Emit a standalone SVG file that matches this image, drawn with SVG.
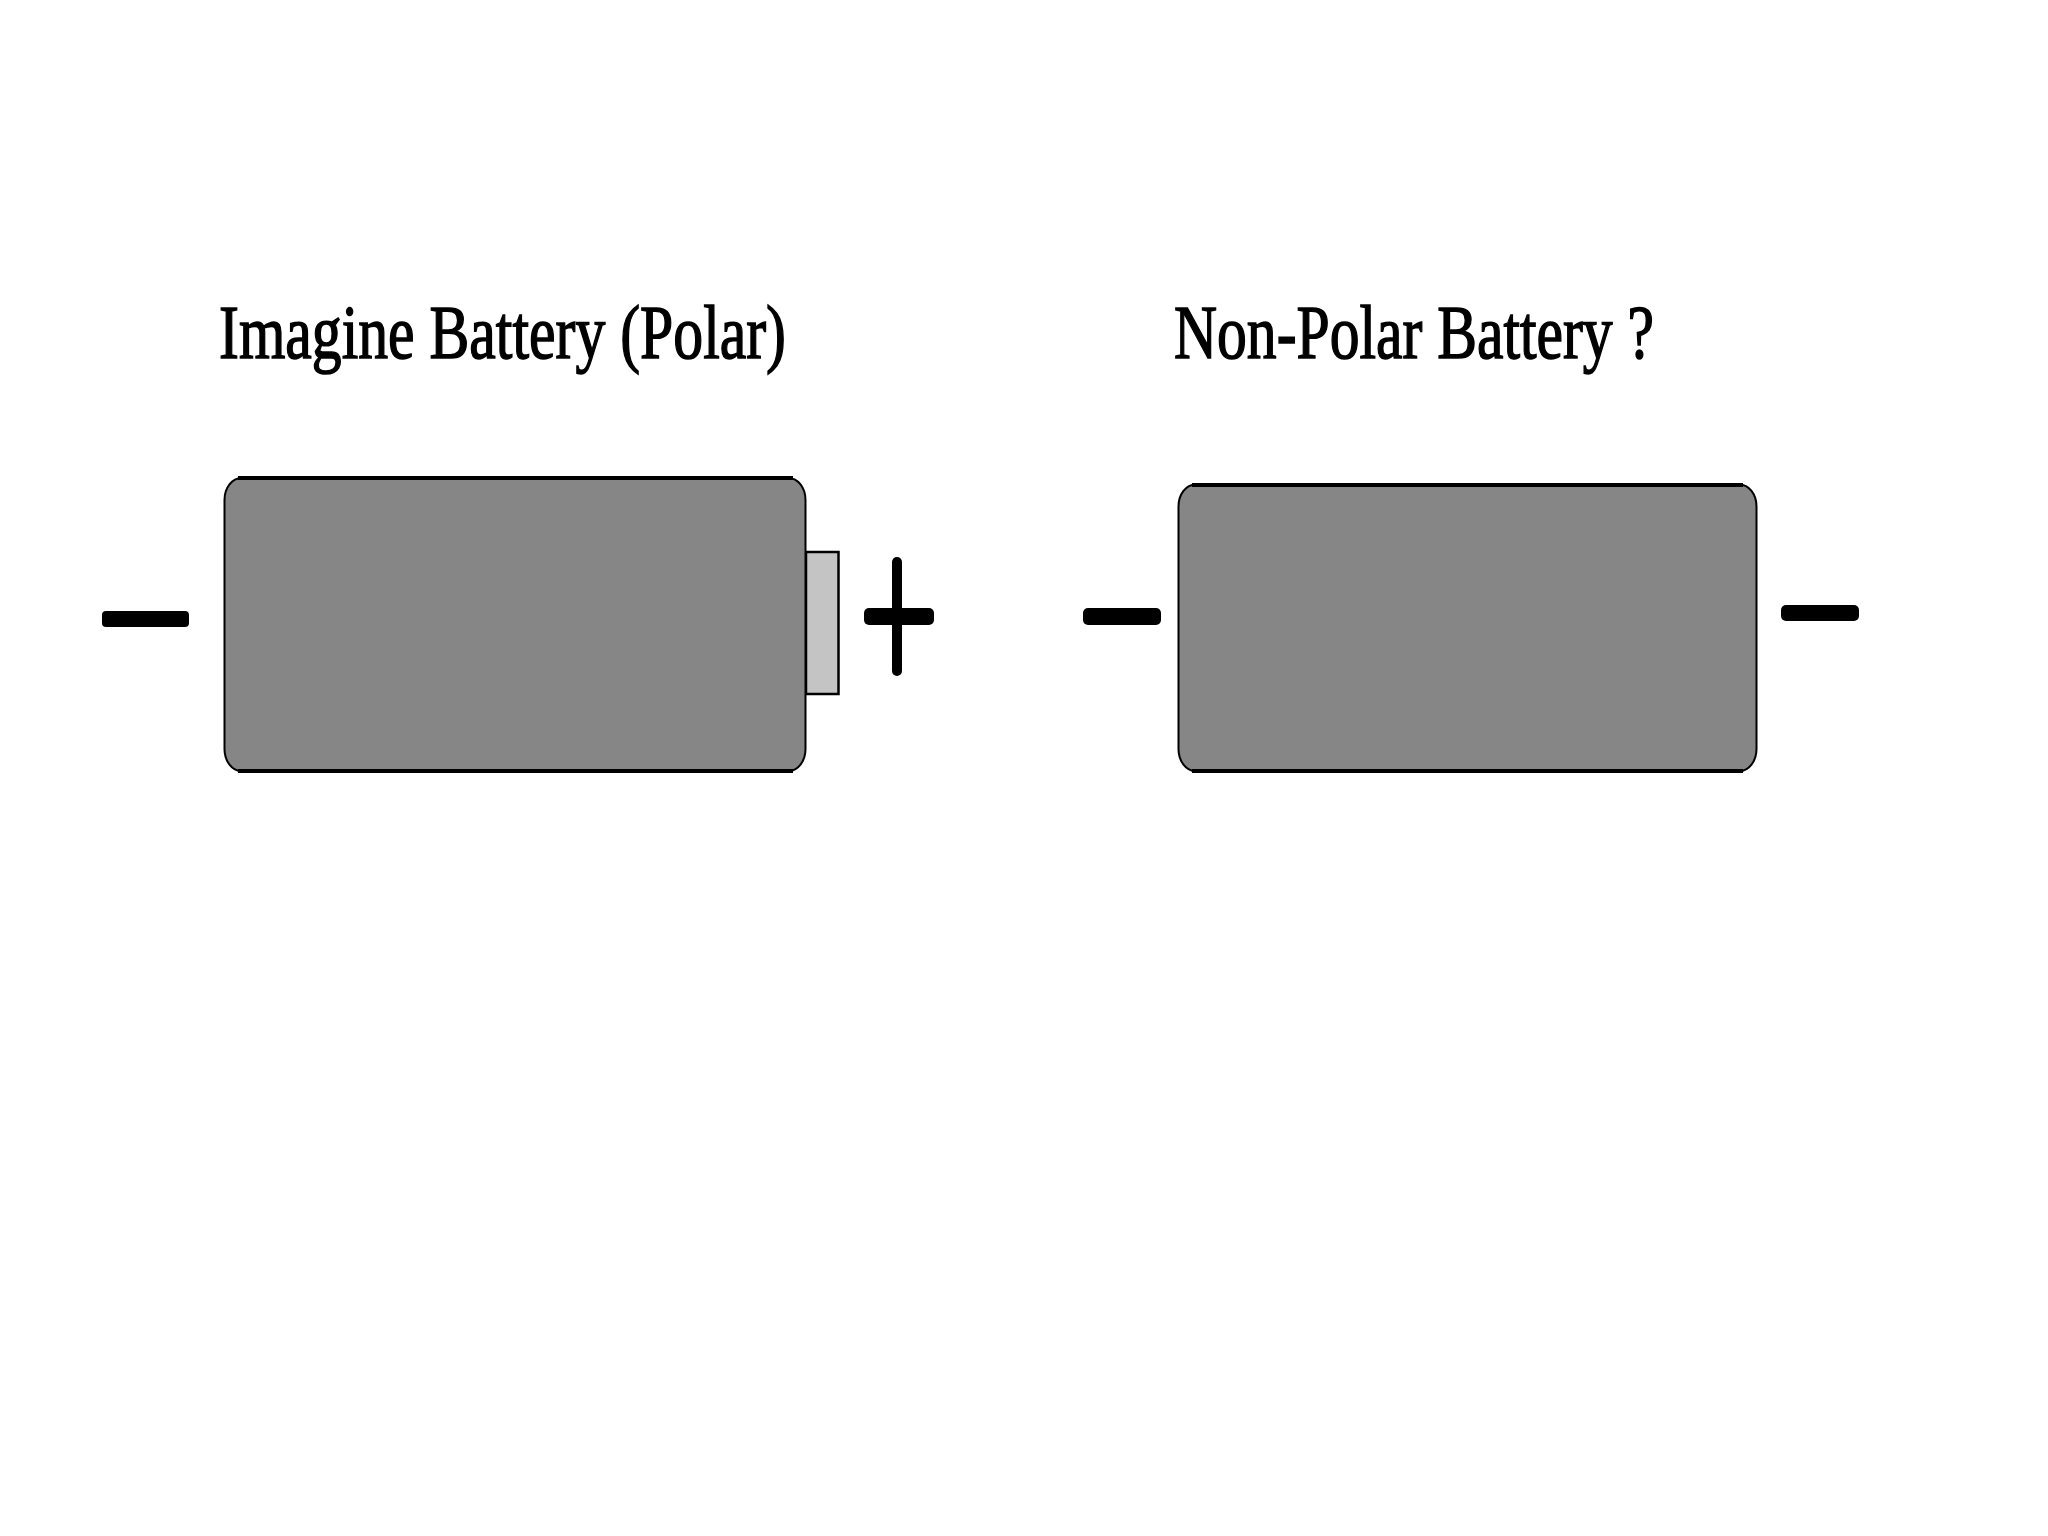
<svg xmlns="http://www.w3.org/2000/svg" width="2048" height="1536" viewBox="0 0 2048 1536">
<style>
.t{font-family:"Liberation Serif",serif;font-size:77px;fill:#000;stroke:#000;stroke-width:1.500px}
.b{fill:#868686;stroke:#000;stroke-width:2}
.e{stroke:#000;stroke-width:4;fill:none}
.s{fill:#000}
</style>
<rect width="2048" height="1536" fill="#fff"/>
<g id="polar-battery">
<text class="t" x="219" y="358" textLength="567" lengthAdjust="spacingAndGlyphs">Imagine Battery (Polar)</text>
<rect x="806" y="552" width="32.500" height="142" fill="#c4c4c4" stroke="#000" stroke-width="2.500"/>
<rect class="b" x="224.500" y="478" width="581" height="293" rx="17" ry="22"/>
<path class="e" d="M238 478H793M238 771H793"/>
<rect class="s" x="102" y="611" width="87" height="16" rx="4"/>
<rect class="s" x="864" y="608" width="70" height="17" rx="5"/>
<rect class="s" x="892" y="557" width="10" height="119" rx="5"/>
</g>
<g id="non-polar-battery">
<text class="t" x="1174" y="358" textLength="480" lengthAdjust="spacingAndGlyphs">Non-Polar Battery ?</text>
<rect class="b" x="1178.500" y="484.500" width="578" height="286.500" rx="17" ry="22"/>
<path class="e" d="M1192 485H1743M1192 771H1743"/>
<rect class="s" x="1083" y="608" width="78" height="17" rx="5"/>
<rect class="s" x="1781" y="605" width="78" height="16" rx="5"/>
</g>
</svg>
